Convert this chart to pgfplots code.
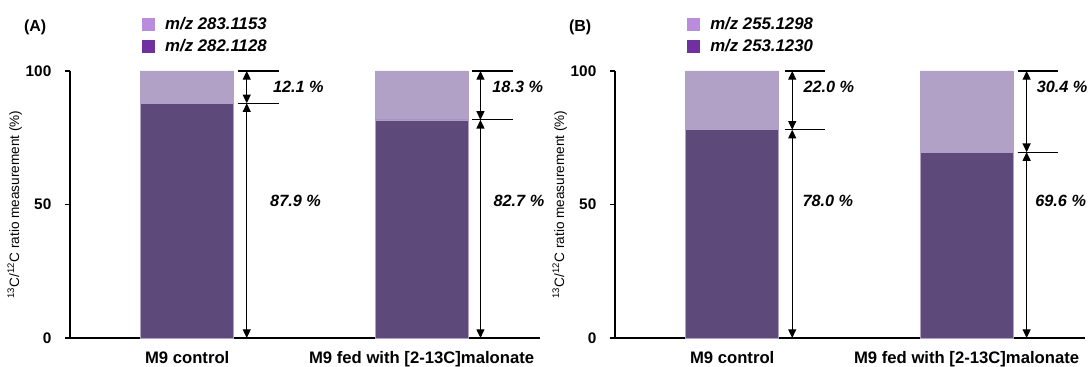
\documentclass[border=0pt]{standalone}
\usepackage{pgfplots}
\pgfplotsset{compat=1.18}
\usepackage{fontspec}
\setmainfont{Liberation Sans}
\usetikzlibrary{arrows.meta}
\definecolor{lightbar}{RGB}{177,161,199}
\definecolor{darkbar}{RGB}{94,74,122}
\definecolor{leglight}{RGB}{185,140,220}
\definecolor{legdark}{RGB}{112,48,160}
\newcommand{\tfont}{\bfseries\fontsize{11.5}{13}\selectfont}
\newcommand{\xfont}{\bfseries\fontsize{12.5}{14}\selectfont}
\newcommand{\afont}{\bfseries\itshape\fontsize{12.2}{14}\selectfont}
\newcommand{\lfont}{\bfseries\itshape\fontsize{12.6}{14}\selectfont}
\pgfplotsset{panel/.style={
  width=352.5pt, height=200.25pt, scale only axis,
  ybar stacked, bar width=0.397,
  xmin=-0.5, xmax=1.505, ymin=0, ymax=100,
  axis x line=bottom, axis y line=left,
  axis line style={-, line width=0.8pt, black},
  xtick={0,1},
  xticklabels={M9 control, M9 fed with [2-13C]malonate},
  xtick style={draw=none},
  xticklabel style={font=\xfont, yshift=-3pt},
  ytick={0,50,100},
  ytick style={black, line width=0.8pt},
  tick align=outside, major tick length=3.5pt,
  yticklabel style={font=\tfont, xshift=-7pt},
  /pgf/number format/assume math mode=true,
  ylabel={\textsuperscript{13}C/\textsuperscript{12}C ratio measurement (\%)},
  ylabel style={font=\fontsize{10.2}{12}\selectfont, yshift=-4pt},
  clip=false,
  legend style={draw=none, fill=none, inner sep=0pt, outer sep=0pt,
    at={(0.153,1.21)}, anchor=north west,
    font=\lfont, cells={anchor=west}, row sep=2pt},
  legend image code/.code={\fill[draw=none] (0pt,-4.875pt) rectangle (9.75pt,4.875pt);
    \path[draw=none, fill=none] (0pt,0pt) -- (15.5pt,0pt);},
}}
\pgfplotstableread{
x dark light
0 87.9 12.1
1 81.7 18.3
}\tabA
\pgfplotstableread{
x dark light
0 78.0 22.0
1 69.6 30.4
}\tabB
\begin{document}
\begin{tikzpicture}[
  dim/.style={line width=0.8pt, {Triangle[width=6pt,length=6.5pt]}-{Triangle[width=6pt,length=6.5pt]}},
  hl/.style={line width=0.8pt}]
\useasboundingbox (-52.5pt,-21.75pt) rectangle (764.25pt,253.5pt);
% Panel A
\begin{axis}[panel, at={(0pt,0pt)}, anchor=south west]
\addplot[fill=darkbar, draw=lightbar, line width=0.4pt, forget plot] table[x=x, y=dark] {\tabA};
\addplot[fill=lightbar, draw=lightbar, line width=0.4pt, forget plot] table[x=x, y=light] {\tabA};
\addlegendimage{fill=leglight, draw=none}
\addlegendentry{m/z 283.1153}
\addlegendimage{fill=legdark, draw=none}
\addlegendentry{m/z 282.1128}
\draw[hl] (axis cs:0.216,100) -- (axis cs:0.391,100);
\draw[hl] (axis cs:0.216,87.9) -- (axis cs:0.391,87.9);
\draw[dim] (axis cs:0.254,100) -- (axis cs:0.254,87.9);
\draw[dim] (axis cs:0.254,87.9) -- (axis cs:0.254,0);
\node[anchor=west, font=\afont, inner sep=0pt] at (axis cs:0.365,94) {12.1 \%};
\node[anchor=west, font=\afont, inner sep=0pt] at (axis cs:0.353,51.3) {87.9 \%};
\draw[hl] (axis cs:1.2145,100) -- (axis cs:1.39,100);
\draw[hl] (axis cs:1.2145,81.7) -- (axis cs:1.39,81.7);
\draw[dim] (axis cs:1.251,100) -- (axis cs:1.251,81.7);
\draw[dim] (axis cs:1.251,81.7) -- (axis cs:1.251,0);
\node[anchor=west, font=\afont, inner sep=0pt] at (axis cs:1.301,94) {18.3 \%};
\node[anchor=west, font=\afont, inner sep=0pt] at (axis cs:1.306,51.3) {82.7 \%};
\node[font=\bfseries\fontsize{12}{14}\selectfont] at (axis description cs:-0.074,1.165) {(A)};
\end{axis}
% Panel B
\begin{axis}[panel, at={(408.75pt,0pt)}, anchor=south west]
\addplot[fill=darkbar, draw=lightbar, line width=0.4pt, forget plot] table[x=x, y=dark] {\tabB};
\addplot[fill=lightbar, draw=lightbar, line width=0.4pt, forget plot] table[x=x, y=light] {\tabB};
\addlegendimage{fill=leglight, draw=none}
\addlegendentry{m/z 255.1298}
\addlegendimage{fill=legdark, draw=none}
\addlegendentry{m/z 253.1230}
\draw[hl] (axis cs:0.226,100) -- (axis cs:0.397,100);
\draw[hl] (axis cs:0.226,78.0) -- (axis cs:0.397,78.0);
\draw[dim] (axis cs:0.256,100) -- (axis cs:0.256,78.0);
\draw[dim] (axis cs:0.256,78.0) -- (axis cs:0.256,0);
\node[anchor=west, font=\afont, inner sep=0pt] at (axis cs:0.303,94) {22.0 \%};
\node[anchor=west, font=\afont, inner sep=0pt] at (axis cs:0.299,51.3) {78.0 \%};
\draw[hl] (axis cs:1.2175,100) -- (axis cs:1.39,100);
\draw[hl] (axis cs:1.2175,69.6) -- (axis cs:1.39,69.6);
\draw[dim] (axis cs:1.256,100) -- (axis cs:1.256,69.6);
\draw[dim] (axis cs:1.256,69.6) -- (axis cs:1.256,0);
\node[anchor=west, font=\afont, inner sep=0pt] at (axis cs:1.298,94) {30.4 \%};
\node[anchor=west, font=\afont, inner sep=0pt] at (axis cs:1.292,51.3) {69.6 \%};
\node[font=\bfseries\fontsize{12}{14}\selectfont] at (axis description cs:-0.074,1.165) {(B)};
\end{axis}
\end{tikzpicture}
\end{document}
